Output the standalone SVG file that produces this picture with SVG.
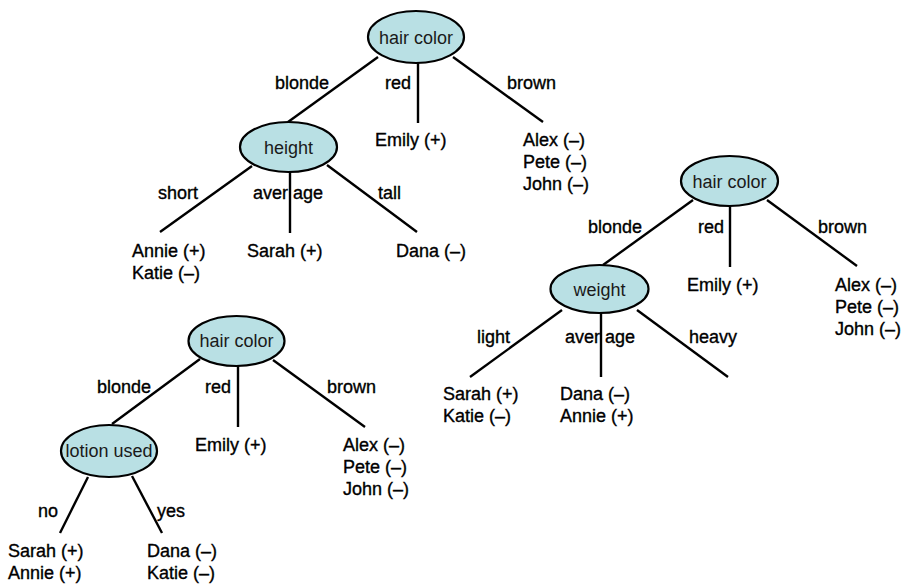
<svg xmlns="http://www.w3.org/2000/svg" width="906" height="584" viewBox="0 0 906 584">
<style>
.bg{fill:#ffffff}
.node ellipse{fill:#b9e0e4;stroke:#000;stroke-width:2.2}
.node text{font-family:"Liberation Sans",Arial,sans-serif;font-size:18px;fill:#1a1a1a;text-anchor:middle}
.edges line{stroke:#000;stroke-width:2.4;stroke-linecap:butt}
.lbl{font-family:"Liberation Sans",Arial,sans-serif;font-size:18px;fill:#000;stroke:#000;stroke-width:0.35}
</style>
<rect class="bg" x="0" y="0" width="906" height="584"/>

<g id="connectors" class="edges">
  <!-- tree 1 -->
  <line x1="378" y1="57" x2="288" y2="122"/>
  <line x1="418" y1="63" x2="418" y2="123"/>
  <line x1="453" y1="57" x2="543" y2="122"/>
  <line x1="252" y1="166" x2="160" y2="232"/>
  <line x1="290" y1="172" x2="290" y2="233"/>
  <line x1="327" y1="165" x2="417" y2="232"/>
  <!-- tree 2 -->
  <line x1="693" y1="200" x2="603" y2="265"/>
  <line x1="730" y1="206" x2="730" y2="267"/>
  <line x1="767" y1="200" x2="857" y2="266"/>
  <line x1="562" y1="310" x2="470" y2="377"/>
  <line x1="601" y1="313" x2="601" y2="377"/>
  <line x1="637" y1="310" x2="728" y2="377"/>
  <!-- tree 3 -->
  <line x1="200" y1="359" x2="112" y2="424"/>
  <line x1="238" y1="365" x2="238" y2="427"/>
  <line x1="273" y1="360" x2="365" y2="427"/>
  <line x1="88" y1="477" x2="60" y2="533"/>
  <line x1="132" y1="476" x2="162" y2="533"/>
</g>

<g id="t1-hair-color" class="node">
  <ellipse cx="416" cy="37" rx="48" ry="26"/>
  <text x="416" y="44">hair color</text>
</g>
<g id="t1-height" class="node">
  <ellipse cx="288.5" cy="147" rx="48.5" ry="25"/>
  <text x="288.5" y="154">height</text>
</g>
<g id="t2-hair-color" class="node">
  <ellipse cx="729.5" cy="181" rx="48.5" ry="25"/>
  <text x="729.5" y="188">hair color</text>
</g>
<g id="t2-weight" class="node">
  <ellipse cx="599.5" cy="289" rx="49" ry="24"/>
  <text x="599.5" y="296">weight</text>
</g>
<g id="t3-hair-color" class="node">
  <ellipse cx="236.5" cy="341" rx="48" ry="25"/>
  <text x="236.5" y="347">hair color</text>
</g>
<g id="t3-lotion-used" class="node">
  <ellipse cx="109" cy="451" rx="48" ry="26"/>
  <text x="109" y="457">lotion used</text>
</g>

<g id="labels">
  <!-- tree 1 -->
  <text class="lbl" x="275" y="89">blonde</text>
  <text class="lbl" x="385" y="89">red</text>
  <text class="lbl" x="507" y="89">brown</text>
  <text class="lbl" x="375" y="146">Emily (+)</text>
  <text class="lbl" x="523" y="146">Alex (–)</text>
  <text class="lbl" x="523" y="168">Pete (–)</text>
  <text class="lbl" x="523" y="190">John (–)</text>
  <text class="lbl" x="158" y="199">short</text>
  <text class="lbl" x="253" y="199">aver age</text>
  <text class="lbl" x="378" y="199">tall</text>
  <text class="lbl" x="132" y="257">Annie (+)</text>
  <text class="lbl" x="132" y="279">Katie (–)</text>
  <text class="lbl" x="247" y="257">Sarah (+)</text>
  <text class="lbl" x="396" y="257">Dana (–)</text>
  <!-- tree 2 -->
  <text class="lbl" x="588" y="233">blonde</text>
  <text class="lbl" x="698" y="233">red</text>
  <text class="lbl" x="818" y="233">brown</text>
  <text class="lbl" x="687" y="291">Emily (+)</text>
  <text class="lbl" x="835" y="291">Alex (–)</text>
  <text class="lbl" x="835" y="313">Pete (–)</text>
  <text class="lbl" x="835" y="335">John (–)</text>
  <text class="lbl" x="477" y="343">light</text>
  <text class="lbl" x="565" y="343">aver age</text>
  <text class="lbl" x="689" y="343">heavy</text>
  <text class="lbl" x="443" y="400">Sarah (+)</text>
  <text class="lbl" x="443" y="422">Katie (–)</text>
  <text class="lbl" x="560" y="400">Dana (–)</text>
  <text class="lbl" x="560" y="422">Annie (+)</text>
  <!-- tree 3 -->
  <text class="lbl" x="97" y="393">blonde</text>
  <text class="lbl" x="205" y="393">red</text>
  <text class="lbl" x="327" y="393">brown</text>
  <text class="lbl" x="195" y="451">Emily (+)</text>
  <text class="lbl" x="343" y="451">Alex (–)</text>
  <text class="lbl" x="343" y="473">Pete (–)</text>
  <text class="lbl" x="343" y="495">John (–)</text>
  <text class="lbl" x="38" y="517">no</text>
  <text class="lbl" x="157" y="517">yes</text>
  <text class="lbl" x="8" y="557">Sarah (+)</text>
  <text class="lbl" x="8" y="579">Annie (+)</text>
  <text class="lbl" x="147" y="557">Dana (–)</text>
  <text class="lbl" x="147" y="579">Katie (–)</text>
</g>
</svg>
